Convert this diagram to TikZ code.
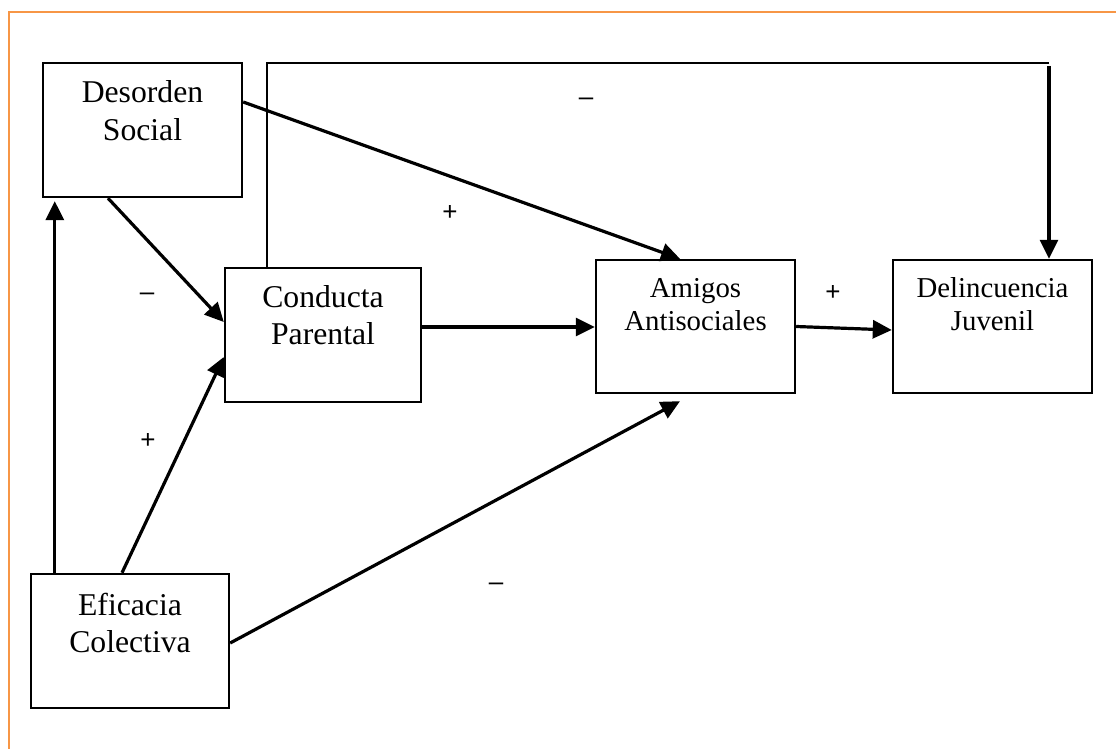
\documentclass[tikz,border=0pt]{standalone}
\usepackage{fontspec}
\setmainfont{Liberation Serif}
\newfontfamily\labfont{Liberation Sans}
\usetikzlibrary{arrows.meta}
\definecolor{frameorange}{HTML}{F79646}
\begin{document}
\begin{tikzpicture}[x=1pt,y=-1pt,
  box/.style={draw=black, line width=2.4pt, rectangle, inner sep=0pt, minimum width=199pt, minimum height=134pt},
  bigtext/.style={font=\fontsize{31.7}{37}\selectfont, inner sep=0pt, anchor=base},
  midtext/.style={font=\fontsize{28.8}{33}\selectfont, inner sep=0pt, anchor=base},
  lab/.style={font=\labfont\fontsize{26}{26}\selectfont, inner sep=0pt},
  conn/.style={draw=black, line width=3.2pt},
  arr/.style={conn, -{Triangle[length=19pt,width=18pt]}},
  thin/.style={draw=black, line width=2.2pt}]
\useasboundingbox (0,0) rectangle (1116,749);
% frame
\draw[frameorange, line width=2.2pt] (1116,12) -- (9,12) -- (9,749);
% boxes
\node[box] (ds) at (142.5,130) {};
\node[box, minimum width=196pt] (cp) at (323,335) {};
\node[box, minimum height=133pt] (aa) at (695.5,326.5) {};
\node[box, minimum height=133pt] (dj) at (992.5,326.5) {};
\node[box, minimum width=198pt] (ec) at (130,641) {};
% texts
\node[bigtext] (dsT) at (142.5,103) {\begin{tabular}[t]{@{}c@{}}Desorden\\Social\end{tabular}};
\node[bigtext] (cpT) at (323,307) {\begin{tabular}[t]{@{}c@{}}Conducta\\Parental\end{tabular}};
\node[midtext] (aaT) at (695.5,297) {\begin{tabular}[t]{@{}c@{}}Amigos\\Antisociales\end{tabular}};
\node[midtext] (djT) at (992.5,297) {\begin{tabular}[t]{@{}c@{}}Delincuencia\\Juvenil\end{tabular}};
\node[bigtext] (ecT) at (130,615) {\begin{tabular}[t]{@{}c@{}}Eficacia\\Colectiva\end{tabular}};
% top connector
\coordinate (tr) at (1049,63);
\draw[thin] ([xshift=43pt]cp.north west) |- (tr);
\draw[arr] ([yshift=-3pt]tr) -- ([xshift=56.5pt]dj.north);
% connectors
\draw[arr] ([yshift=28pt]ds.east) -- ([xshift=-15.5pt]aa.north);
\draw[arr] ([xshift=-34.5pt]ds.south) -- ([yshift=13pt]cp.west);
\draw[arr] ([xshift=-8pt]ec.north) -- ([yshift=-22pt]cp.west);
\draw[arr] ([xshift=25pt]ec.north west) -- ([xshift=25pt,yshift=-3pt]ec.north west |- ds.south);
\draw[arr] ([yshift=-2pt]ec.east) -- ([xshift=-15.5pt,yshift=-7pt]aa.south);
\draw[arr] ([yshift=8pt]cp.east) -- ([yshift=8pt]cp.east -| aa.west);
\draw[arr] (aa.east) -- ([yshift=-3.5pt]dj.west);
% labels
\node[lab] (l1) at (586,102) {–};
\node[lab] (l2) at (450,213) {+};
\node[lab] (l3) at (147,297) {–};
\node[lab] (l4) at (148,441) {+};
\node[lab] (l5) at (496,587) {–};
\node[lab] (l6) at (833,293) {+};
\end{tikzpicture}
\end{document}
